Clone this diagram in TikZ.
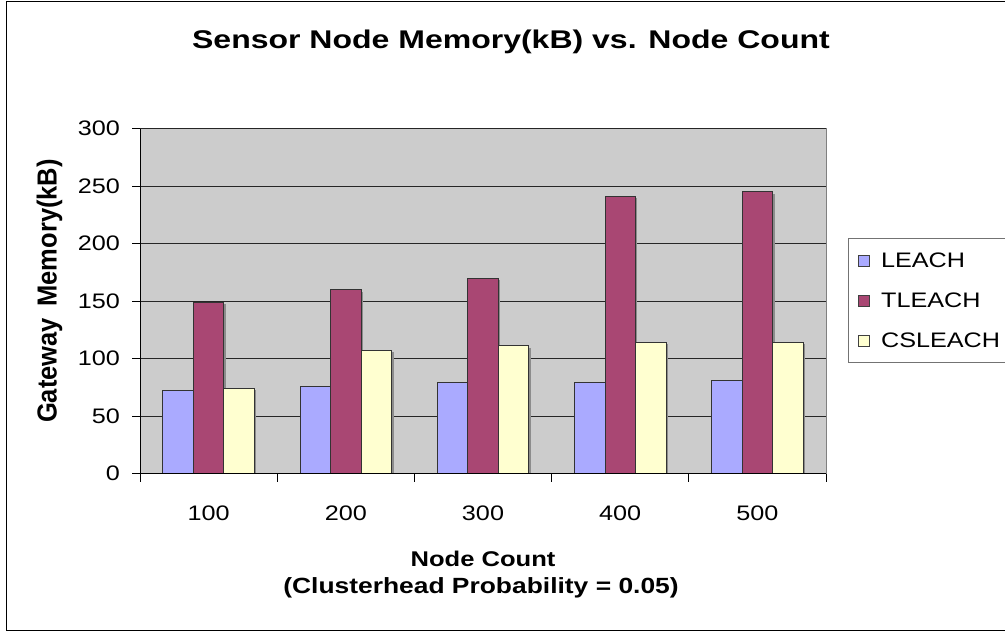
\documentclass[tikz,border=0pt]{standalone}
\usepackage{fontspec}
\usepackage{graphicx}
\setmainfont{Liberation Sans}[FakeStretch=1.2]
\newfontfamily\titlefont{Liberation Sans}[FakeStretch=1.25]
\newfontfamily\plainfont{Liberation Sans}
\usetikzlibrary{positioning}

\definecolor{plotbg}{RGB}{204,204,204}
\definecolor{leach}{RGB}{170,170,255}
\definecolor{tleach}{RGB}{169,71,115}
\definecolor{csleach}{RGB}{255,255,208}

\tikzset{
  bar/.style={draw=black!80, line width=0.8pt},
  barshadow/.style={fill=black!45},
  gridline/.style={draw=black!85, line width=0.9pt},
  axisline/.style={draw=black, line width=0.9pt},
  ticklab/.style={inner sep=0pt, font=\fontsize{21}{25}\selectfont},
  swatch/.style={draw=black!75, line width=0.8pt, minimum size=11pt, inner sep=0pt}
}

\begin{document}
\begin{tikzpicture}[x=1pt, y=-1pt]

  \clip (0,0) rectangle (1005,634);
  \fill[white] (0,0) rectangle (1005,634);
  \draw[black, line width=1pt] (1010,2) -| (6.5,630) -- (1010,630);

  \node (title) [anchor=base, inner sep=0pt,
    font=\titlefont\bfseries\fontsize{25.6}{30}\selectfont] at (511,48.5)
    {Sensor Node Memory(kB) vs. Node Count};

  % plot area
  \fill[plotbg] (140,128.5) rectangle (826,473.5);
  \draw[black!50] (140,128.5) rectangle (826,473.5);
  \foreach \v in {50,100,...,300}
    \draw[gridline] (140,{473.5-\v*1.15}) -- (826,{473.5-\v*1.15});

  % bars
  \foreach \n/\a/\b/\c [count=\i from 0] in
      {100/72/149/74, 200/76/160/107, 300/79/170/111, 400/79/241/114, 500/81/245/114}
  {
    \pgfmathsetmacro\xs{140+\i*137.2+22.87}
    \fill[barshadow] (\xs+2,{473.5-\a*1.15+2}) rectangle (\xs+32.5,473.5);
    \fill[barshadow] (\xs+32.5,{473.5-\b*1.15+2}) rectangle (\xs+63,473.5);
    \fill[barshadow] (\xs+63,{473.5-\c*1.15+2}) rectangle (\xs+93.5,473.5);
    \filldraw[bar, fill=leach] (\xs,{473.5-\a*1.15}) rectangle (\xs+30.5,473.5);
    \filldraw[bar, fill=tleach] (\xs+30.5,{473.5-\b*1.15}) rectangle (\xs+61,473.5);
    \filldraw[bar, fill=csleach] (\xs+61,{473.5-\c*1.15}) rectangle (\xs+91.5,473.5);
    \node (cat\n) [ticklab, anchor=base] at ({140+\i*137.2+68.6},520) {\n};
  }

  % axes
  \draw[axisline] (140,128.5) -- (140,481.5);
  \draw[axisline] (132,473.5) -- (826,473.5);
  \foreach \v in {0,50,...,300}
  {
    \draw[axisline] (132,{473.5-\v*1.15}) -- (140,{473.5-\v*1.15});
    \node (yt\v) [ticklab, anchor=east] at (120,{473.5-\v*1.15}) {\v};
  }
  \foreach \i in {1,...,5}
    \draw[axisline] ({140+\i*137.2},473.5) -- ({140+\i*137.2},481.5);

  \node (xlabel) [anchor=base, inner sep=0pt,
    font=\bfseries\fontsize{21.3}{25}\selectfont] at (483,566.7) {Node Count};
  \node (xsub) [anchor=base, inner sep=0pt,
    font=\bfseries\fontsize{22}{26}\selectfont] at (481,593.3)
    {(Clusterhead Probability = 0.05)};
  \node (ylabel) [rotate=90, inner sep=0pt] at (49.5,291)
    {\scalebox{1}[1.08]{\plainfont\bfseries\fontsize{25.5}{30}\selectfont Gateway\hspace{0.45em}Memory(kB)}};

  % legend
  \draw[black!55, line width=0.9pt] (848,238) rectangle (1012,362);
  \node (sw1) [swatch, fill=leach] at (864,260.5) {};
  \node (sw2) [swatch, fill=tleach] at (864,300.5) {};
  \node (sw3) [swatch, fill=csleach] at (864,340.5) {};
  \node (lg1) [ticklab, anchor=west, right=11pt of sw1] {LEACH};
  \node (lg2) [ticklab, anchor=west, right=11pt of sw2] {TLEACH};
  \node (lg3) [ticklab, anchor=west, right=11pt of sw3] {CSLEACH};

\end{tikzpicture}
\end{document}
